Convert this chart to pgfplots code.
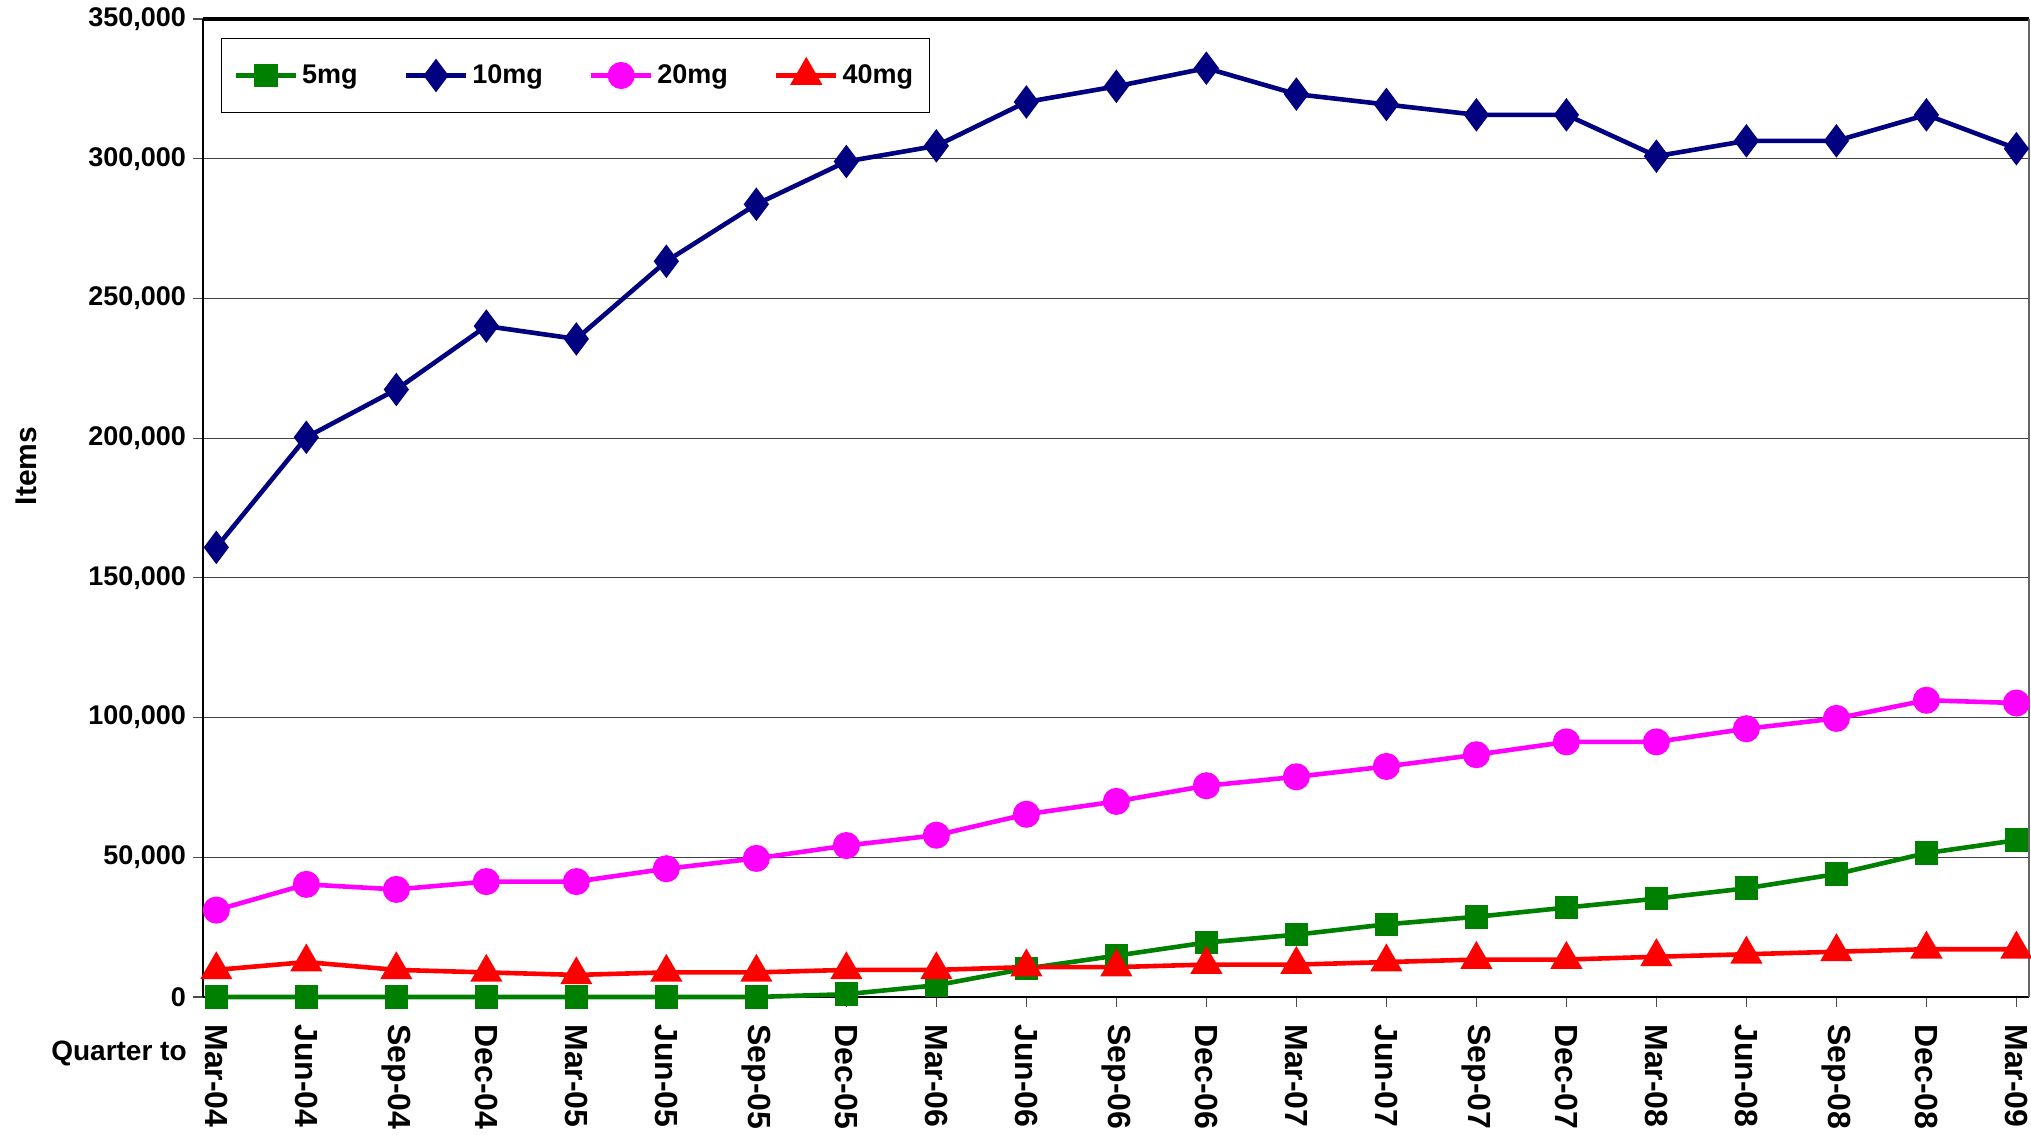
\documentclass[border=0pt]{standalone}
\usepackage{pgfplots}
\pgfplotsset{compat=1.18}
\usepackage{fontspec}
\setmainfont{Liberation Sans}
\definecolor{cgreen}{RGB}{0,128,0}
\definecolor{cnavy}{RGB}{0,0,128}
\definecolor{cmag}{RGB}{255,0,255}
\definecolor{cred}{RGB}{255,0,0}
\begin{document}
\begin{tikzpicture}
\begin{axis}[
  at={(0,0)}, anchor=south west,
  scale only axis, width=913pt, height=489pt,
  xmin=-0.148, xmax=20.14, ymin=0, ymax=350000,
  clip=false,
  axis x line*=bottom, axis y line*=left,
  axis line style={black, line width=1.2pt, -},
  xtick={0,...,20},
  xticklabels={Mar-04,Jun-04,Sep-04,Dec-04,Mar-05,Jun-05,Sep-05,Dec-05,Mar-06,Jun-06,Sep-06,Dec-06,Mar-07,Jun-07,Sep-07,Dec-07,Mar-08,Jun-08,Sep-08,Dec-08,Mar-09},
  xticklabel style={rotate=-90, anchor=west, font=\bfseries\fontsize{16}{18}\selectfont, inner sep=0pt, xshift=8.5pt},
  ytick={0,50000,100000,150000,200000,250000,300000,350000},
  yticklabels={0,{50,000},{100,000},{150,000},{200,000},{250,000},{300,000},{350,000}},
  scaled y ticks=false,
  yticklabel style={font=\bfseries\fontsize{13.5}{15}\selectfont},
  tick style={black!70, line width=0.6pt},
  tick align=outside, major tick length=5pt,
  ymajorgrids, grid style={black!75, line width=0.6pt},
  ylabel={Items},
  ylabel style={font=\bfseries\fontsize{15}{17}\selectfont, at={(axis description cs:-0.0969,0.543)}, anchor=center},
  legend columns=4,
  legend style={at={(0.00986,0.9806)}, anchor=north west, draw=black, line width=0.6pt,
    font=\bfseries\fontsize{13.5}{15}\selectfont, inner xsep=6pt, inner ysep=11pt,
    /tikz/every even column/.append style={column sep=21pt}},
  legend image code/.code={\draw[mark repeat=2, mark phase=2] plot coordinates {(0pt,0pt) (15pt,0pt) (30pt,0pt)};},
  every axis plot/.append style={line width=2.3pt},
]
\addplot[cgreen, mark=square*, mark size=4.75pt, mark options={solid}] coordinates {
(0,0) (1,0) (2,0) (3,0) (4,0) (5,0) (6,0) (7,1000) (8,4200) (9,10200) (10,14800)
(11,19500) (12,22300) (13,26000) (14,28700) (15,32000) (16,35200) (17,38900) (18,44000) (19,51500) (20,56100)};
\addlegendentry{5mg}
\addplot[cnavy, mark=diamond*, mark size=6.5pt, mark options={solid}] coordinates {
(0,160900) (1,200300) (2,217400) (3,240100) (4,235500) (5,263300) (6,283700) (7,299000) (8,304600) (9,320300) (10,325900)
(11,332400) (12,323100) (13,319400) (14,315700) (15,315700) (16,300900) (17,306400) (18,306400) (19,315700) (20,303600)};
\addlegendentry{10mg}
\addplot[cmag, mark=*, mark size=5.6pt, mark options={solid}] coordinates {
(0,31100) (1,40300) (2,38500) (3,41300) (4,41300) (5,45900) (6,49600) (7,54200) (8,57900) (9,65400) (10,70000)
(11,75600) (12,78800) (13,82500) (14,86700) (15,91300) (16,91300) (17,96000) (18,99700) (19,106200) (20,105200)};
\addlegendentry{20mg}
\addplot[cred, mark=triangle*, mark size=7pt, mark options={solid}] coordinates {
(0,9700) (1,12500) (2,9700) (3,8800) (4,7900) (5,8800) (6,8800) (7,9700) (8,9700) (9,10700) (10,10700)
(11,11600) (12,11600) (13,12500) (14,13400) (15,13400) (16,14400) (17,15300) (18,16200) (19,17100) (20,17100)};
\addlegendentry{40mg}
\draw[black, line width=1.6pt] (rel axis cs:0,1) -- (rel axis cs:1,1);
\draw[black!60, line width=0.6pt] (rel axis cs:1,0) -- (rel axis cs:1,1);
\node[font=\bfseries\fontsize{14}{16}\selectfont, anchor=center] at (axis description cs:-0.046,-0.058) {Quarter to};
\end{axis}
\pgfresetboundingbox
\path (-101.5pt,-69pt) rectangle (914pt,498.5pt);
\end{tikzpicture}
\end{document}
